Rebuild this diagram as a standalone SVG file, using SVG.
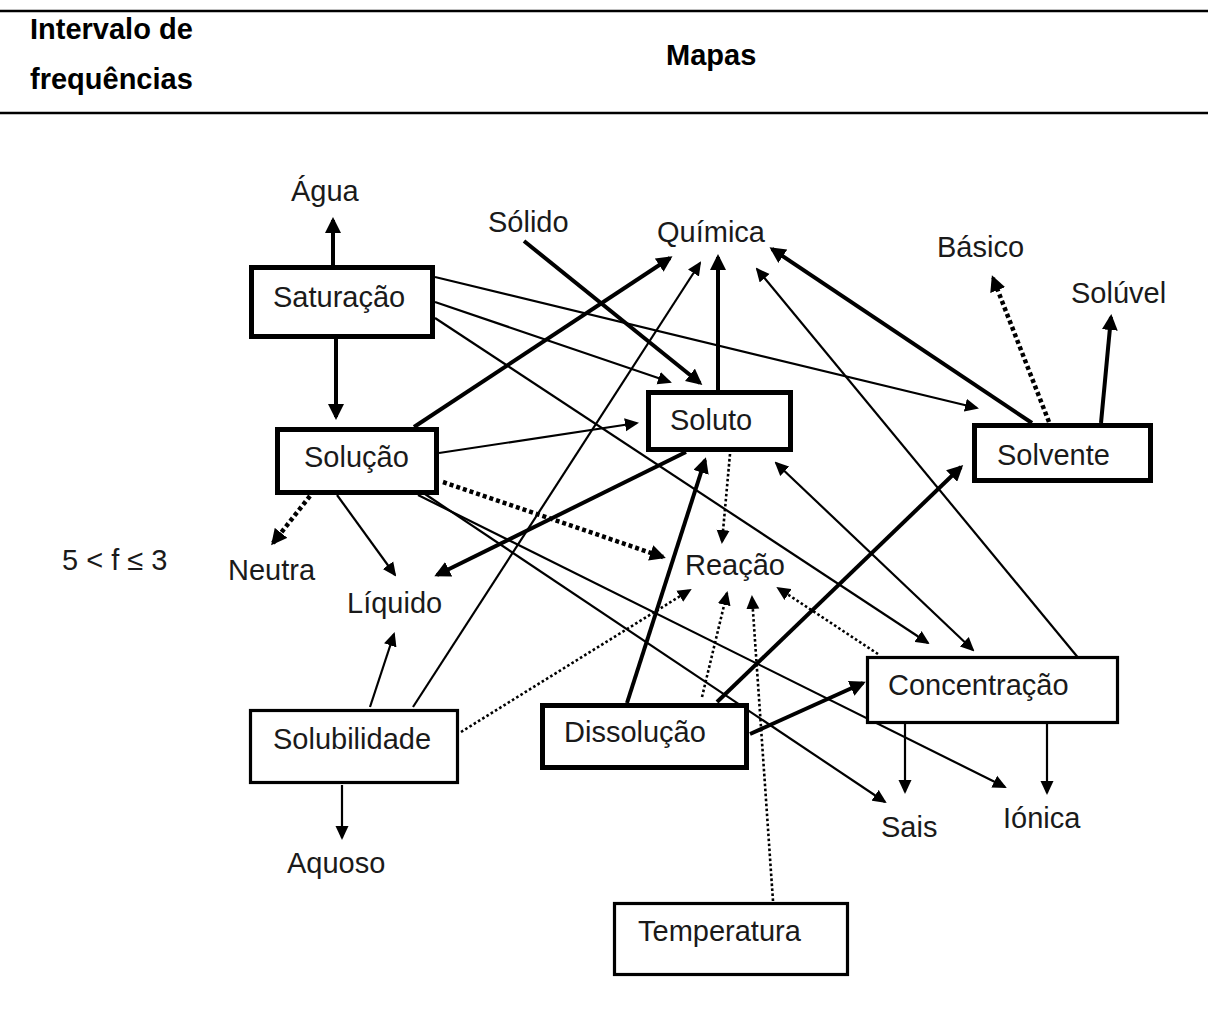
<svg xmlns="http://www.w3.org/2000/svg" width="1208" height="1015" viewBox="0 0 1208 1015">
  <style>
    text { font-family: "Liberation Sans", Arial, sans-serif; fill: #1a1a1a; }
    .hdr { font-size: 29px; font-weight: bold; fill: #000; }
    .lbl { font-size: 29px; }
    .rule { stroke: #000; stroke-width: 2.5; }
    .box { fill: #fff; stroke: #000; stroke-width: 5; }
    .box-thin { fill: #fff; stroke: #000; stroke-width: 3.2; }
    .c { fill: none; stroke: #000; stroke-linecap: butt; }
    .thin { stroke-width: 2.2; marker-end: url(#ah); }
    .thick { stroke-width: 4; marker-end: url(#ahb); }
    .dot-thick { stroke-width: 4.5; stroke-dasharray: 4 3; marker-end: url(#ahb); }
    .dot-thin { stroke-width: 2.6; stroke-dasharray: 2.6 2.4; marker-end: url(#ah); }
  </style>
  <defs>
    <marker id="ah" markerUnits="userSpaceOnUse" viewBox="0 0 14 14" markerWidth="14" markerHeight="14" refX="12" refY="7" orient="auto">
      <path d="M0,0.5 L14,7 L0,13.5 z" fill="#000"/>
    </marker>
    <marker id="ahs" markerUnits="userSpaceOnUse" viewBox="0 0 14 14" markerWidth="14" markerHeight="14" refX="12" refY="7" orient="auto-start-reverse">
      <path d="M0,0.5 L14,7 L0,13.5 z" fill="#000"/>
    </marker>
    <marker id="ahb" markerUnits="userSpaceOnUse" viewBox="0 0 16 16" markerWidth="16" markerHeight="16" refX="13" refY="8" orient="auto">
      <path d="M0,0 L16,8 L0,16 z" fill="#000"/>
    </marker>
  </defs>

  <rect width="1208" height="1015" fill="#fff"/>

  <!-- table header -->
  <g id="header">
    <line class="rule" x1="0" y1="11" x2="1208" y2="11"/>
    <line class="rule" x1="0" y1="113" x2="1208" y2="113"/>
    <text class="hdr" x="30" y="39">Intervalo de</text>
    <text class="hdr" x="30" y="89">frequências</text>
    <text class="hdr" x="666" y="65">Mapas</text>
  </g>

  <text id="interval" class="lbl" x="62" y="570">5 &lt; f ≤ 3</text>

  <!-- connectors -->
  <g id="connectors">
    <line class="c thick" x1="333" y1="265" x2="333" y2="220"/>
    <line class="c thick" x1="336" y1="339" x2="336" y2="417"/>
    <line class="c thin" x1="435" y1="277" x2="977" y2="408"/>
    <line class="c thin" x1="435" y1="302" x2="670" y2="382"/>
    <line class="c thin" x1="435" y1="318" x2="928" y2="643"/>
    <line class="c thick" x1="524" y1="241" x2="700" y2="383"/>
    <line class="c thick" x1="414" y1="427" x2="670" y2="258"/>
    <line class="c thin" x1="413" y1="707" x2="700" y2="263"/>
    <line class="c thick" x1="718" y1="390" x2="718" y2="257"/>
    <line class="c thick" x1="1032" y1="423" x2="772" y2="249"/>
    <line class="c thin" x1="1080" y1="660" x2="757" y2="269"/>
    <line class="c dot-thick" x1="1049" y1="422" x2="993" y2="278"/>
    <line class="c thick" x1="1101" y1="423" x2="1111" y2="317"/>
    <line class="c thin" x1="439" y1="453" x2="637" y2="423"/>
    <line class="c thick" x1="686" y1="452" x2="437" y2="575"/>
    <line class="c thin" x1="337" y1="495" x2="395" y2="575"/>
    <line class="c dot-thick" x1="310" y1="496" x2="273" y2="543"/>
    <line class="c dot-thick" x1="443" y1="482" x2="663" y2="557"/>
    <line class="c thin" x1="425" y1="494" x2="885" y2="802"/>
    <line class="c thin" x1="418" y1="495" x2="1005" y2="787"/>
    <line class="c thick" x1="627" y1="703" x2="705" y2="460"/>
    <line class="c thick" x1="717" y1="702" x2="961" y2="467"/>
    <line class="c thick" x1="750" y1="734" x2="863" y2="683"/>
    <line class="c dot-thin" x1="702" y1="697" x2="727" y2="593"/>
    <line class="c dot-thin" x1="773" y1="901" x2="752" y2="597"/>
    <line class="c dot-thin" x1="461" y1="732" x2="690" y2="590"/>
    <line class="c dot-thin" x1="878" y1="654" x2="778" y2="588"/>
    <line class="c dot-thin" x1="730" y1="454" x2="722" y2="542"/>
    <line class="c thin" x1="905" y1="724" x2="905" y2="792"/>
    <line class="c thin" x1="1047" y1="724" x2="1047" y2="793"/>
    <line class="c thin" x1="370" y1="707" x2="394" y2="634"/>
    <line class="c thin" x1="342" y1="785" x2="342" y2="838"/>
    <line class="c thin" x1="776" y1="463" x2="973" y2="650" marker-start="url(#ahs)"/>
  </g>

  <!-- concept boxes -->
  <g id="saturacao">
    <rect class="box" x="251.5" y="267.5" width="181" height="69"/>
    <text class="lbl" x="273" y="307">Saturação</text>
  </g>
  <g id="solucao">
    <rect class="box" x="277.5" y="429.5" width="159" height="63"/>
    <text class="lbl" x="304" y="467">Solução</text>
  </g>
  <g id="soluto">
    <rect class="box" x="648.5" y="392.5" width="142" height="57"/>
    <text class="lbl" x="670" y="430">Soluto</text>
  </g>
  <g id="solvente">
    <rect class="box" x="974.5" y="425.5" width="176" height="55"/>
    <text class="lbl" x="997" y="465">Solvente</text>
  </g>
  <g id="concentracao">
    <rect class="box-thin" x="867.5" y="657.5" width="250" height="65"/>
    <text class="lbl" x="888" y="695">Concentração</text>
  </g>
  <g id="solubilidade">
    <rect class="box-thin" x="250.5" y="710.5" width="207" height="72"/>
    <text class="lbl" x="273" y="749">Solubilidade</text>
  </g>
  <g id="dissolucao">
    <rect class="box" x="542.5" y="705.5" width="204" height="62"/>
    <text class="lbl" x="564" y="742">Dissolução</text>
  </g>
  <g id="temperatura">
    <rect class="box-thin" x="614.5" y="903.5" width="233" height="71"/>
    <text class="lbl" x="638" y="941">Temperatura</text>
  </g>

  <!-- free concept labels -->
  <g id="agua"><text class="lbl" x="291" y="201">Água</text></g>
  <g id="solido"><text class="lbl" x="488" y="232">Sólido</text></g>
  <g id="quimica"><text class="lbl" x="657" y="242">Química</text></g>
  <g id="basico"><text class="lbl" x="937" y="257">Básico</text></g>
  <g id="soluvel"><text class="lbl" x="1071" y="303">Solúvel</text></g>
  <g id="neutra"><text class="lbl" x="228" y="580">Neutra</text></g>
  <g id="liquido"><text class="lbl" x="347" y="613">Líquido</text></g>
  <g id="reacao"><text class="lbl" x="685" y="575">Reação</text></g>
  <g id="sais"><text class="lbl" x="881" y="837">Sais</text></g>
  <g id="ionica"><text class="lbl" x="1003" y="828">Iónica</text></g>
  <g id="aquoso"><text class="lbl" x="287" y="873">Aquoso</text></g>
</svg>
